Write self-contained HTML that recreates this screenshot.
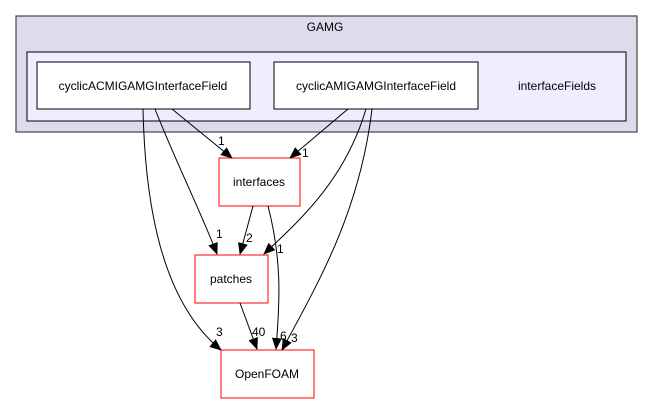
<!DOCTYPE html>
<html><head><style>body{margin:0;background:#fff}svg{display:block}text{font-family:"Liberation Sans",sans-serif;font-size:12px;fill:#000}</style></head><body>
<svg width="649" height="404" viewBox="0 0 649 404">
<defs><marker id="a" markerWidth="12" markerHeight="10" refX="11" refY="5" orient="auto" markerUnits="userSpaceOnUse"><path d="M0,0 L12,5 L0,10Z" fill="#000"/></marker></defs>
<rect x="16" y="16" width="621" height="116" fill="#dcdcec" stroke="#444" stroke-width="1.2"/>
<text x="325" y="31" text-anchor="middle">GAMG</text>
<rect x="27" y="52" width="599" height="69" fill="#eeeeff" stroke="#000"/>
<rect x="37" y="62" width="213" height="47" fill="#fff" stroke="#000"/>
<text x="143" y="90" text-anchor="middle" font-size="11">cyclicACMIGAMGInterfaceField</text>
<rect x="274" y="62" width="204" height="47" fill="#fff" stroke="#000"/>
<text x="376" y="90" text-anchor="middle" font-size="11">cyclicAMIGAMGInterfaceField</text>
<text x="557" y="90" text-anchor="middle" font-size="11">interfaceFields</text>
<rect x="219" y="158" width="81" height="48" fill="#fff" stroke="red"/>
<text x="259" y="186" text-anchor="middle">interfaces</text>
<rect x="195" y="255" width="73" height="48" fill="#fff" stroke="red"/>
<text x="231" y="283" text-anchor="middle">patches</text>
<rect x="221" y="350" width="93" height="48" fill="#fff" stroke="red"/>
<text x="267" y="378" text-anchor="middle">OpenFOAM</text>
<g fill="none" stroke="#000" marker-end="url(#a)">
<path d="M143,109 C145,200 160,300 221,350"/>
<path d="M155,109 C175,160 200,210 217,254"/>
<path d="M172,109 L232,158"/>
<path d="M348,109 L290,158"/>
<path d="M366,109 C345,180 300,220 264,254"/>
<path d="M372,109 C360,210 320,280 282,350"/>
<path d="M253,206 L240,254"/>
<path d="M268,206 C282,260 280,300 276,349"/>
<path d="M240,303 L257,349"/>
</g>
<text x="218" y="145">1</text>
<text x="302" y="157">1</text>
<text x="216" y="238">1</text>
<text x="246" y="242">2</text>
<text x="277" y="253">1</text>
<text x="216" y="336">3</text>
<text x="252" y="336">40</text>
<text x="280" y="340">6</text>
<text x="291" y="342">3</text>
</svg>
</body></html>
